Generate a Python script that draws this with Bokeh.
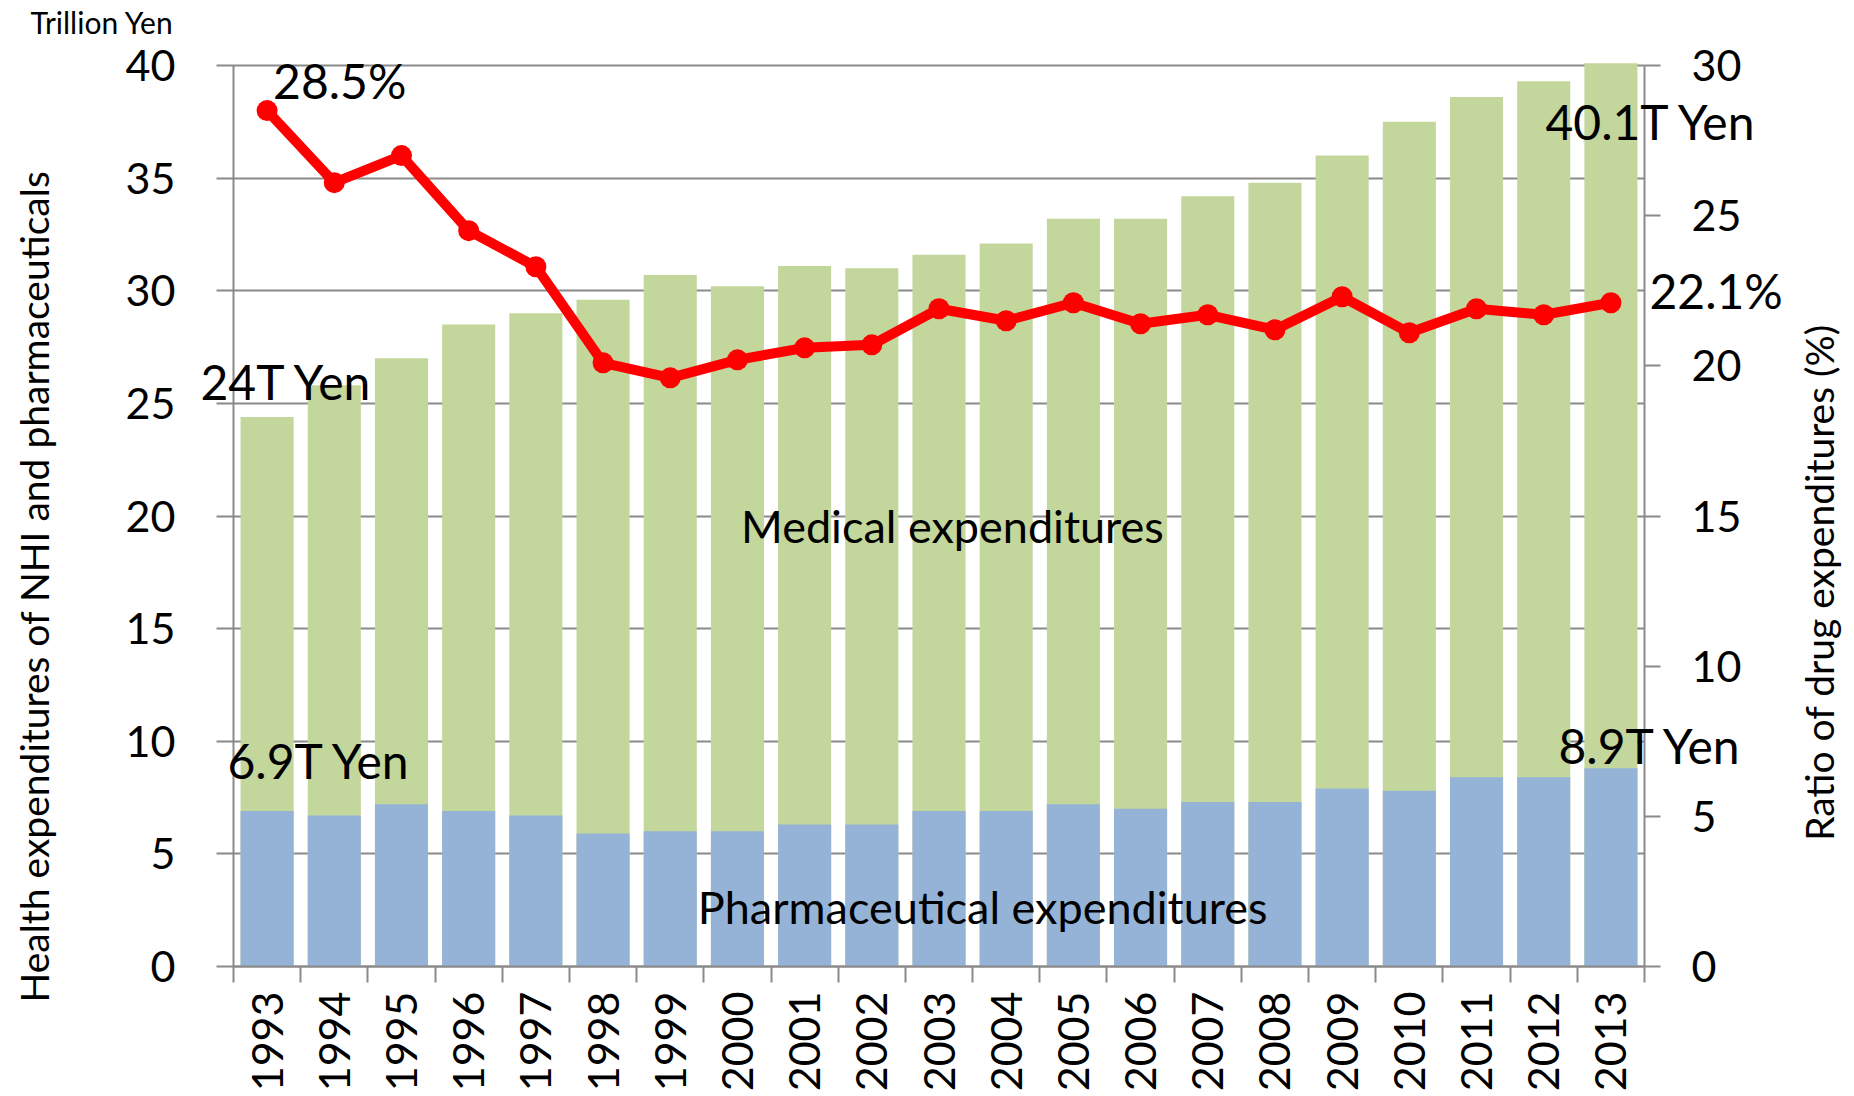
import math
from bokeh.plotting import figure
from bokeh.models import Range1d, LinearAxis, FixedTicker, Label, ColumnDataSource
from bokeh.embed import file_html
from bokeh.resources import INLINE

# ---- data ----
years = [1993, 1994, 1995, 1996, 1997, 1998, 1999, 2000, 2001, 2002, 2003,
         2004, 2005, 2006, 2007, 2008, 2009, 2010, 2011, 2012, 2013]
medical_total = [24.4, 25.8, 27.0, 28.5, 29.0, 29.6, 30.7, 30.2, 31.1, 31.0, 31.6,
                 32.1, 33.2, 33.2, 34.2, 34.8, 36.0, 37.5, 38.6, 39.3, 40.1]
pharma = [6.9, 6.7, 7.2, 6.9, 6.7, 5.9, 6.0, 6.0, 6.3, 6.3, 6.9,
          6.9, 7.2, 7.0, 7.3, 7.3, 7.9, 7.8, 8.4, 8.4, 8.8]
ratio = [28.5, 26.1, 27.0, 24.5, 23.3, 20.1, 19.6, 20.2, 20.6, 20.7, 21.9,
         21.5, 22.1, 21.4, 21.7, 21.2, 22.3, 21.1, 21.9, 21.7, 22.1]
left_ticks = [0, 5, 10, 15, 20, 25, 30, 35, 40]
right_ticks = [0, 5, 10, 15, 20, 25, 30]

FONT = "Lato"
GRAY = "#8a8a8a"
W, H = 1854, 1096
# plot-area box in canvas pixels (left, top, right, bottom)
PL, PT, PR, PB = 233, 65, 1644, 966

# data extents of the plot area
X0, X1 = years[0] - 0.5, years[-1] + 0.5
YL0, YL1 = 0, 40
YR0, YR1 = 0, 30

# the frame spans the whole canvas; axes are pinned at the plot-area edges
xs = (PR - PL) / (X1 - X0)
yls = (PB - PT) / (YL1 - YL0)
yrs = (PB - PT) / (YR1 - YR0)
x_range = Range1d(X0 - PL / xs, X1 + (W - PR) / xs)
y_range = Range1d(YL0 - (H - PB) / yls, YL1 + PT / yls)
yr_range = Range1d(YR0 - (H - PB) / yrs, YR1 + PT / yrs)

p = figure(width=W, height=H, output_backend="svg", toolbar_location=None,
           x_range=x_range, y_range=y_range, min_border=0)
p.extra_y_ranges = {"right": yr_range}
p.outline_line_color = None
p.xgrid.visible = False
p.ygrid.visible = False

src = ColumnDataSource(dict(year=years, total=medical_total, pharma=pharma, ratio=ratio))
p.vbar(x="year", top="total", bottom=0, width=0.79, source=src,
       fill_color="#C3D69B", line_color=None)
p.vbar(x="year", top="pharma", bottom=0, width=0.79, source=src,
       fill_color="#95B3D7", line_color=None)
p.line(x="year", y="ratio", y_range_name="right", source=src,
       line_color="#FF0000", line_width=10)
p.scatter(x="year", y="ratio", y_range_name="right", source=src,
          size=21, fill_color="#FF0000", line_color=None)

# left axis (its inward ticks act as the horizontal gridlines)
ya = p.yaxis[0]
ya.fixed_location = X0
ya.bounds = (YL0, YL1)
ya.level = "underlay"
ya.ticker = FixedTicker(ticks=left_ticks)
ya.major_tick_out = 17
ya.major_tick_in = PR - PL
ya.minor_tick_out = 0
ya.minor_tick_in = 0
ya.axis_line_color = GRAY
ya.axis_line_width = 2
ya.major_tick_line_color = GRAY
ya.major_tick_line_width = 2
ya.major_label_text_font = FONT
ya.major_label_text_font_size = "43px"
ya.major_label_text_color = "black"
ya.major_label_standoff = 41

# right axis
ra = LinearAxis(y_range_name="right", ticker=FixedTicker(ticks=right_ticks),
                fixed_location=X1, bounds=(YR0, YR1))
ra.major_tick_out = 16
ra.major_tick_in = 0
ra.minor_tick_out = 0
ra.minor_tick_in = 0
ra.axis_line_color = GRAY
ra.axis_line_width = 2
ra.major_tick_line_color = GRAY
ra.major_tick_line_width = 2
ra.major_label_text_font = FONT
ra.major_label_text_font_size = "43px"
ra.major_label_text_color = "black"
ra.major_label_standoff = 31
p.add_layout(ra, "right")

# bottom axis
xa = p.xaxis[0]
xa.fixed_location = YL0
xa.bounds = (X0, X1)
xa.ticker = FixedTicker(ticks=years, minor_ticks=[y - 0.5 for y in years] + [years[-1] + 0.5])
xa.major_label_overrides = {y: str(y) for y in years}
xa.major_tick_out = 0
xa.major_tick_in = 0
xa.minor_tick_out = 16
xa.minor_tick_in = 0
xa.minor_tick_line_color = GRAY
xa.minor_tick_line_width = 2
xa.axis_line_color = GRAY
xa.axis_line_width = 2
xa.major_label_orientation = math.pi / 2
xa.major_label_standoff = 9
xa.major_label_text_font = FONT
xa.major_label_text_font_size = "43px"
xa.major_label_text_color = "black"


def lab(text, x, y, size, xo=0, yo=0, align="left", angle=0, rng="default"):
    p.add_layout(Label(x=x, y=y, x_offset=xo, y_offset=yo, text=text,
                       text_font=FONT, text_font_size=size, text_color="black",
                       text_align=align, text_baseline="middle", angle=angle,
                       y_range_name=rng))


def clab(text, sx, sy, size, align="left", angle=0):
    # positioned in canvas pixels
    p.add_layout(Label(x=sx, y=sy, x_units="canvas", y_units="canvas", text=text,
                       text_font=FONT, text_font_size=size, text_color="black",
                       text_align=align, text_baseline="middle", angle=angle))


first, last = 0, len(years) - 1
lab(f"{ratio[first]}%", years[first], ratio[first], "48px", xo=6, yo=30, rng="right")
lab("Medical expenditures", 2003.2, 19.56, "45px", align="center")
lab("Pharmaceutical expenditures", 2003.65, 2.63, "45px", align="center")

clab("Trillion Yen", 30, 21, "30px")
clab(f"{medical_total[first]:.0f}T Yen", 200, 381, "48px")
clab(f"{pharma[first]}T Yen", 227, 760, "48px")
clab(f"{medical_total[last]}T Yen", 1545, 121, "48px")
clab("8.9T Yen", 1558, 745, "48px")
clab(f"{ratio[last]}%", 1649, 290, "48px")
clab("Health expenditures of NHI and pharmaceuticals", 33, 586, "39px",
     align="center", angle=math.pi / 2)
clab("Ratio of drug expenditures (%)", 1818, 582, "39px",
     align="center", angle=math.pi / 2)

open("out.html", "w").write(file_html(p, INLINE))
